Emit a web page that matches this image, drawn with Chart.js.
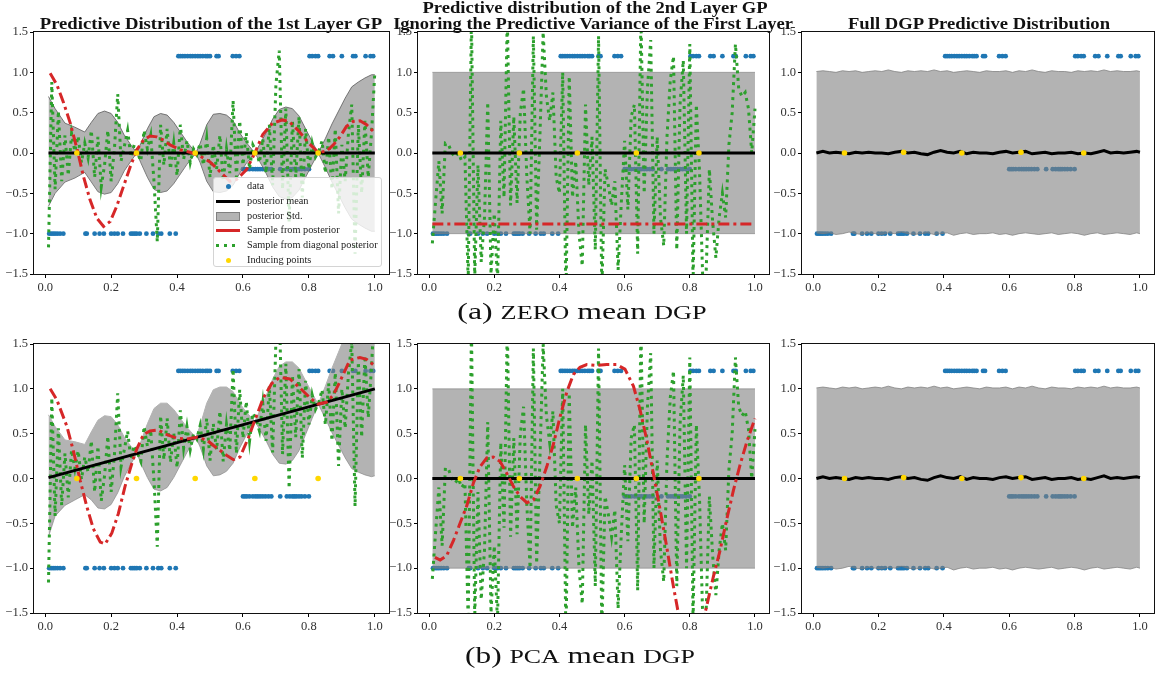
<!DOCTYPE html>
<html>
<head>
<meta charset="utf-8">
<script src="https://cdn.jsdelivr.net/npm/chart.js"></script>
<style>
  body { margin: 0; width: 1156px; height: 677px; overflow: hidden; background: #fff; position: relative; font-family: 'Liberation Serif', 'DejaVu Serif', serif; }
  canvas { position: absolute; }
  .title { position: absolute; font-weight: bold; font-size: 16px; line-height: 16px; white-space: nowrap; transform: translateX(-50%); transform-origin: 0 0; color: #111; }
  .caption { position: absolute; font-size: 23px; line-height: 22px; white-space: nowrap; transform: translateX(-50%); transform-origin: 0 0; color: #111; }
  .sc { font-size: 19px; }
  #legend { position: absolute; left: 213px; top: 177px; width: 169px; height: 90px; background: rgba(255,255,255,0.8); border: 1px solid #d4d4d4; border-radius: 3px; font-size: 10.3px; z-index: 5; color: #222; padding-top: 1px; box-sizing: border-box; }
  .row { position: relative; height: 14.8px; line-height: 14.8px; padding-left: 33px; white-space: nowrap; }
  .sym { position: absolute; left: 2px; top: 0; width: 24px; height: 14.8px; }
  .dot { position: absolute; left: 10px; top: 5px; width: 5px; height: 5px; border-radius: 50%; }
  .ln { position: absolute; left: 0; top: 6px; width: 24px; height: 3px; }
  .rect { position: absolute; left: 0; top: 3px; width: 22px; height: 7px; background: #b3b3b3; border: 1px solid #808080; }
</style>
</head>
<body>
<canvas id="c1"></canvas>
<canvas id="c2"></canvas>
<canvas id="c3"></canvas>
<canvas id="c4"></canvas>
<canvas id="c5"></canvas>
<canvas id="c6"></canvas>

<div class="title fit" data-w="343" style="left:211px; top:16px;">Predictive Distribution of the 1st Layer GP</div>
<div class="title fit" data-w="345" style="left:595px; top:0px;">Predictive distribution of the 2nd Layer GP</div>
<div class="title fit" data-w="400" style="left:593px; top:16px;">Ignoring the Predictive Variance of the First Layer</div>
<div class="title fit" data-w="262" style="left:979px; top:16px;">Full DGP Predictive Distribution</div>

<div class="caption fit" data-w="249" style="left:582px; top:301px;">(a) <span class="sc">ZERO</span> mean <span class="sc">DGP</span></div>
<div class="caption fit" data-w="230" style="left:580px; top:645px;">(b) <span class="sc">PCA</span> mean <span class="sc">DGP</span></div>

<div id="legend">
  <div class="row"><span class="sym"><i class="dot" style="background:#1f77b4"></i></span>data</div>
  <div class="row"><span class="sym"><i class="ln" style="background:#000"></i></span>posterior mean</div>
  <div class="row"><span class="sym"><i class="rect"></i></span>posterior Std.</div>
  <div class="row"><span class="sym"><i class="ln" style="background:#d62728"></i></span>Sample from posterior</div>
  <div class="row"><span class="sym"><i class="ln" style="background:repeating-linear-gradient(to right,#2ca02c 0 3px,transparent 3px 8px)"></i></span>Sample from diagonal posterior</div>
  <div class="row"><span class="sym"><i class="dot" style="background:#ffd700"></i></span>Inducing points</div>
</div>

<script>
// ---- data ----
const xTicks = [0.0, 0.2, 0.4, 0.6, 0.8, 1.0];
const yTicks = [-1.5, -1.0, -0.5, 0.0, 0.5, 1.0, 1.5];

// training data (three levels)
const dataLowY = -1.0, dataMidY = -0.2, dataHighY = 1.2;
const dataLowX = [0.012,0.018,0.024,0.03,0.037,0.045,0.055,0.122,0.126,0.15,0.165,0.178,0.2,0.21,0.22,0.236,0.26,0.266,0.272,0.278,0.287,0.307,0.327,0.343,0.352,0.378,0.396];
const dataMidX = [0.6,0.606,0.612,0.62,0.63,0.638,0.645,0.652,0.66,0.668,0.677,0.686,0.713,0.733,0.742,0.75,0.756,0.762,0.77,0.778,0.788,0.8];
const dataHighX = [0.404,0.41,0.417,0.424,0.432,0.44,0.447,0.455,0.463,0.47,0.478,0.487,0.493,0.5,0.52,0.526,0.569,0.579,0.589,0.802,0.81,0.82,0.828,0.863,0.873,0.9,0.934,0.941,0.972,0.987,0.995];

const inducingX = [0.096, 0.277, 0.455, 0.636, 0.828];
const inducingY = [0, 0, 0, 0, 0];
const inducingDgpY = [0.0, 0.01, 0.0, 0.01, 0.0];

// posterior means
const meanX = [0.01, 1.0];
const meanZeroY = [0.0, 0.0];
const meanPcaY = [0.01, 1.0];

// 1st layer posterior std band
const band1X = [0.01,0.03,0.06,0.09,0.12,0.14,0.16,0.18,0.20,0.22,0.24,0.26,0.278,0.29,0.31,0.33,0.35,0.37,0.39,0.41,0.43,0.457,0.47,0.49,0.51,0.53,0.55,0.57,0.59,0.61,0.636,0.65,0.67,0.69,0.71,0.73,0.75,0.77,0.79,0.81,0.828,0.85,0.87,0.89,0.91,0.93,0.95,0.97,0.99,1.0];
const band1Upper = [0.70,0.55,0.37,0.32,0.26,0.38,0.49,0.52,0.49,0.38,0.22,0.10,0.00,0.12,0.30,0.45,0.49,0.47,0.38,0.26,0.14,0.00,0.12,0.35,0.48,0.49,0.47,0.40,0.25,0.13,0.00,0.10,0.25,0.42,0.54,0.57,0.55,0.46,0.30,0.14,0.00,0.18,0.36,0.52,0.68,0.82,0.88,0.93,0.97,0.97];
const band1Lower = [-0.66,-0.50,-0.36,-0.31,-0.24,-0.36,-0.48,-0.51,-0.49,-0.38,-0.22,-0.10,0.00,-0.12,-0.30,-0.45,-0.49,-0.47,-0.38,-0.26,-0.14,0.00,-0.12,-0.35,-0.48,-0.49,-0.47,-0.40,-0.25,-0.13,0.00,-0.10,-0.25,-0.42,-0.54,-0.57,-0.55,-0.46,-0.30,-0.14,0.00,-0.18,-0.36,-0.52,-0.68,-0.82,-0.88,-0.93,-0.97,-0.97];
const band4Upper = [0.71,0.58,0.43,0.41,0.38,0.52,0.65,0.70,0.69,0.60,0.46,0.36,0.28,0.41,0.61,0.78,0.84,0.84,0.77,0.67,0.57,0.46,0.59,0.84,0.99,1.02,1.02,0.97,0.84,0.74,0.64,0.75,0.92,1.11,1.25,1.30,1.30,1.23,1.09,0.95,0.83,1.03,1.23,1.41,1.59,1.75,1.83,1.90,1.96,1.97];
const band4Lower = [-0.65,-0.42,-0.30,-0.24,-0.18,-0.24,-0.33,-0.34,-0.29,-0.16,0.02,0.16,0.28,0.17,0.01,-0.12,-0.14,-0.10,0.01,0.15,0.29,0.46,0.35,0.14,0.03,0.04,0.08,0.17,0.34,0.48,0.64,0.55,0.42,0.27,0.17,0.16,0.20,0.31,0.49,0.67,0.83,0.67,0.51,0.37,0.23,0.11,0.07,0.04,0.02,0.03];

// 2nd layer band (ignoring 1st layer variance)
const band2X = [0.01, 1.0];
const band2Upper = [1.0, 1.0];
const band2Lower = [-1.0, -1.0];

// samples from the posterior
const red1X = [0.015,0.035,0.056,0.076,0.096,0.116,0.136,0.157,0.177,0.197,0.217,0.237,0.258,0.278,0.298,0.318,0.338,0.359,0.379,0.409,0.439,0.47,0.5,0.52,0.54,0.56,0.58,0.61,0.636,0.66,0.69,0.72,0.74,0.77,0.80,0.828,0.853,0.874,0.894,0.914,0.934,0.955,0.975,0.995];
const red1Y = [0.99,0.85,0.62,0.37,0.06,-0.29,-0.58,-0.81,-0.91,-0.85,-0.66,-0.42,-0.17,0.04,0.16,0.21,0.20,0.16,0.10,0.04,0.01,-0.04,-0.11,-0.19,-0.27,-0.35,-0.33,-0.21,0.00,0.23,0.37,0.41,0.39,0.27,0.12,0.01,0.02,0.10,0.20,0.33,0.39,0.40,0.35,0.27];
const red2X = [0.01, 1.0];
const red2Y = [-0.88, -0.88];
const red4X = [0.015,0.035,0.066,0.086,0.106,0.126,0.146,0.167,0.182,0.202,0.222,0.242,0.263,0.278,0.298,0.318,0.343,0.369,0.399,0.429,0.46,0.49,0.52,0.55,0.571,0.591,0.616,0.636,0.662,0.687,0.712,0.742,0.773,0.803,0.828,0.853,0.874,0.894,0.924,0.955,0.975,0.995];
const red4Y = [1.0,0.88,0.58,0.30,-0.02,-0.31,-0.56,-0.71,-0.73,-0.61,-0.39,-0.09,0.17,0.33,0.49,0.53,0.54,0.49,0.45,0.44,0.46,0.43,0.34,0.26,0.21,0.24,0.45,0.65,0.90,1.06,1.13,1.11,1.01,0.90,0.83,0.85,0.93,1.08,1.32,1.35,1.33,1.27];
const red5X = [0.018,0.034,0.054,0.075,0.095,0.116,0.136,0.156,0.177,0.197,0.218,0.238,0.259,0.279,0.3,0.32,0.34,0.361,0.382,0.402,0.423,0.443,0.463,0.484,0.514,0.545,0.576,0.601,0.627,0.647,0.668,0.688,0.709,0.729,0.75,0.775,0.8,0.825,0.85,0.872,0.893,0.913,0.934,0.954,0.975,1.0];
const red5Y = [-0.88,-0.91,-0.86,-0.69,-0.50,-0.30,-0.05,0.13,0.23,0.24,0.19,0.06,-0.09,-0.20,-0.27,-0.24,-0.09,0.13,0.39,0.69,0.97,1.16,1.24,1.27,1.26,1.27,1.27,1.22,1.03,0.77,0.43,0.06,-0.35,-0.76,-1.21,-1.70,-1.95,-1.85,-1.45,-1.10,-0.80,-0.46,-0.13,0.15,0.41,0.67];

// samples from the diagonal posterior
const greenX = [0.01,0.02,0.03,0.04,0.05,0.06,0.07,0.08,0.09,0.10,0.11,0.12,0.13,0.14,0.15,0.16,0.17,0.18,0.19,0.20,0.21,0.22,0.23,0.24,0.25,0.26,0.27,0.28,0.29,0.30,0.31,0.32,0.33,0.34,0.35,0.36,0.37,0.38,0.39,0.40,0.41,0.42,0.43,0.44,0.45,0.46,0.47,0.48,0.49,0.50,0.51,0.52,0.53,0.54,0.55,0.56,0.57,0.58,0.59,0.60,0.61,0.62,0.63,0.64,0.65,0.66,0.67,0.68,0.69,0.70,0.71,0.72,0.73,0.74,0.75,0.76,0.77,0.78,0.79,0.80,0.81,0.82,0.83,0.84,0.85,0.86,0.87,0.88,0.89,0.90,0.91,0.92,0.93,0.94,0.95,0.96,0.97,0.98,0.99,1.00];
const green1Y = [-1.17,0.88,-0.45,0.52,-0.35,0.22,-0.28,0.24,0.02,0.21,-0.12,0.12,-0.06,0.28,-0.30,0.20,-0.42,-0.15,0.28,-0.35,0.05,0.73,-0.10,0.08,0.28,-0.05,0.10,0.00,-0.10,0.28,0.05,0.22,-0.35,-1.10,0.35,-0.15,0.30,-0.20,0.12,-0.28,0.35,-0.08,0.15,-0.12,0.05,-0.02,0.12,-0.15,0.18,-0.30,0.10,-0.20,0.22,-0.35,0.05,-0.25,0.65,-0.30,0.40,-0.15,0.25,-0.20,0.10,0.02,-0.12,0.18,-0.25,0.35,-0.40,0.85,1.27,-0.45,0.55,-0.85,0.40,-0.30,0.45,-0.55,0.30,-0.20,0.12,-0.05,0.02,0.15,-0.25,0.20,-0.45,0.30,-0.75,0.10,-0.35,0.25,0.60,-1.25,0.35,-0.50,0.40,-0.30,0.25,1.00];
const green4Y = [-1.16,0.90,-0.42,0.56,-0.30,0.28,-0.21,0.32,0.11,0.31,-0.01,0.24,0.07,0.42,-0.15,0.36,-0.25,0.03,0.47,-0.15,0.26,0.95,0.13,0.32,0.53,0.21,0.37,0.28,0.19,0.58,0.36,0.54,-0.02,-0.76,0.70,0.21,0.67,0.18,0.51,0.12,0.76,0.34,0.58,0.32,0.50,0.44,0.59,0.33,0.67,0.20,0.61,0.32,0.75,0.19,0.60,0.31,1.22,0.28,0.99,0.45,0.86,0.42,0.73,0.66,0.53,0.84,0.42,1.03,0.29,1.55,1.98,0.27,1.28,-0.11,1.15,0.46,1.22,0.23,1.09,0.60,0.93,0.77,0.85,0.99,0.60,1.06,0.42,1.18,0.14,1.00,0.56,1.17,1.53,-0.31,1.30,0.46,1.37,0.68,1.24,2.00];
const green2Y = [-1.12,-0.60,-0.10,-0.75,0.12,0.10,0.00,-0.05,0.00,-0.10,-0.05,-1.60,1.70,-1.55,-0.15,-1.35,-0.80,0.63,-1.50,-0.75,-1.60,0.40,-0.55,1.70,-0.65,0.45,-0.62,0.50,0.80,-0.30,-1.00,1.45,-0.95,0.20,1.50,0.70,0.40,0.75,-0.30,-0.50,1.00,-1.80,0.95,-0.55,-0.10,-1.00,-1.40,0.60,-0.40,0.20,-1.20,1.45,-1.70,-0.20,-0.40,-0.65,-0.35,-1.45,-0.60,0.15,-0.70,0.45,0.60,-1.25,1.70,-0.50,0.80,1.40,-1.00,0.20,-0.80,-1.15,0.20,0.90,1.20,-1.20,0.60,1.15,-1.00,1.35,-1.60,0.60,-0.25,-1.60,-1.50,-0.20,-0.85,-1.30,-0.80,-0.50,-0.80,0.10,0.50,1.35,0.80,0.70,0.75,0.55,0.00,0.55];

// full DGP predictive distribution
const dgpX = [0.01,0.03,0.05,0.07,0.09,0.11,0.13,0.15,0.17,0.19,0.21,0.23,0.25,0.27,0.29,0.31,0.33,0.35,0.37,0.39,0.41,0.43,0.45,0.47,0.49,0.51,0.53,0.55,0.57,0.59,0.61,0.63,0.65,0.67,0.69,0.71,0.73,0.75,0.77,0.79,0.81,0.83,0.85,0.87,0.89,0.91,0.93,0.95,0.97,0.99,1.0];
const dgpMean = [0.00,0.02,0.00,0.01,0.00,-0.01,0.01,0.00,0.01,0.00,0.00,-0.01,0.01,0.02,0.00,0.01,-0.01,-0.02,0.01,0.03,0.01,0.00,0.02,-0.01,0.01,0.00,0.00,-0.01,0.01,0.02,0.00,0.01,0.02,-0.01,0.00,0.01,-0.01,0.00,0.00,0.01,-0.01,0.00,-0.01,0.01,0.03,0.00,0.01,0.00,0.01,0.02,0.01];
const dgpUpper = [1.01,1.02,1.01,1.00,1.02,1.01,1.02,1.00,1.01,1.02,1.01,1.03,1.01,1.00,1.02,1.01,1.02,1.01,1.03,1.01,1.02,1.00,1.01,1.02,1.01,1.00,1.02,1.01,1.01,1.02,1.00,1.02,1.01,1.03,1.01,1.00,1.02,1.01,1.01,1.00,1.02,1.01,1.02,1.01,1.03,1.01,1.02,1.01,1.01,1.02,1.01];
const dgpLower = [-0.99,-1.00,-0.99,-1.01,-1.00,-0.98,-1.00,-1.01,-0.99,-1.00,-1.01,-0.99,-1.00,-0.98,-1.00,-1.01,-1.00,-0.99,-1.01,-1.00,-0.99,-1.02,-1.00,-0.99,-1.01,-1.00,-1.00,-0.99,-1.01,-1.00,-1.02,-1.00,-0.99,-1.00,-1.01,-1.00,-0.99,-1.01,-1.00,-0.99,-1.00,-1.02,-1.00,-0.99,-1.01,-1.00,-0.99,-1.00,-1.01,-0.99,-1.00];

// ---- layout ----
const Y_W = 34, X_H = 22, PAD_T = 10, PAD_R = 6;
const X_MIN = -0.034, X_MAX = 1.043;
const boxes = {
  c1: { L: 34, R: 389, T: 32, B: 274 },
  c2: { L: 418, R: 769, T: 32, B: 274 },
  c3: { L: 802, R: 1154, T: 32, B: 274 },
  c4: { L: 34, R: 389, T: 344, B: 613 },
  c5: { L: 418, R: 769, T: 344, B: 613 },
  c6: { L: 802, R: 1154, T: 344, B: 613 }
};

const BLUE = '#1f77b4', RED = '#d62728', GREEN = '#2ca02c', GOLD = '#ffd700';
const BAND_FILL = 'rgba(128,128,128,0.6)';

function pts(xs, ys) { return xs.map((x, i) => ({ x: x, y: ys[i] })); }

function dataPoints() {
  return [].concat(
    dataLowX.map(x => ({ x: x, y: dataLowY })),
    dataMidX.map(x => ({ x: x, y: dataMidY })),
    dataHighX.map(x => ({ x: x, y: dataHighY }))
  );
}

function line(xs, ys, color, width, dash, order) {
  return { data: pts(xs, ys), borderColor: color, borderWidth: width, borderDash: dash,
           pointRadius: 0, fill: false, tension: 0, order: order, clip: 0 };
}
function dots(points, color, r, order) {
  return { data: points, showLine: false, pointRadius: r, pointBackgroundColor: color,
           pointBorderWidth: 0, order: order, clip: 0 };
}
function band(xs, up, lo, edge) {
  return [
    { data: pts(xs, up), borderColor: edge, borderWidth: 1, backgroundColor: BAND_FILL,
      fill: '+1', pointRadius: 0, tension: 0, order: 5, clip: 0 },
    { data: pts(xs, lo), borderColor: edge, borderWidth: 1, fill: false,
      pointRadius: 0, tension: 0, order: 5, clip: 0 }
  ];
}

const fmt = v => (Math.abs(v) < 1e-9 ? 0 : v).toFixed(1).replace('-', '\u2212');
const tickFont = { family: "'Liberation Serif', serif", size: 12.5 };

function axis(ticks, fit) {
  return {
    type: 'linear',
    afterBuildTicks: s => { s.ticks = ticks.map(v => ({ value: v })); },
    afterFit: fit,
    ticks: { font: tickFont, color: '#333', padding: 2, autoSkip: false, maxRotation: 0, callback: fmt },
    grid: { display: true, drawOnChartArea: false, drawTicks: true, tickLength: 4, color: '#000' },
    border: { display: false }
  };
}

// black frame round the plot area
const frame = {
  id: 'frame',
  afterDraw(chart) {
    const a = chart.chartArea, ctx = chart.ctx;
    ctx.save();
    ctx.strokeStyle = '#111';
    ctx.lineWidth = 1;
    ctx.strokeRect(Math.round(a.left) - 0.5, Math.round(a.top) - 0.5,
                   Math.round(a.right - a.left) + 1, Math.round(a.bottom - a.top) + 1);
    ctx.restore();
  }
};

function panel(id, datasets) {
  const b = boxes[id];
  const c = document.getElementById(id);
  c.width = b.R - b.L + Y_W + PAD_R;
  c.height = b.B - b.T + PAD_T + X_H;
  c.style.left = (b.L - Y_W) + 'px';
  c.style.top = (b.T - PAD_T) + 'px';
  const xAxis = axis(xTicks, s => { s.height = X_H; });
  xAxis.min = X_MIN; xAxis.max = X_MAX;
  const yAxis = axis(yTicks, s => { s.width = Y_W; });
  yAxis.min = -1.5; yAxis.max = 1.5;
  return new Chart(c, {
    type: 'line',
    data: { datasets: datasets },
    options: {
      responsive: false, animation: false, events: [], devicePixelRatio: 1,
      layout: { padding: { top: PAD_T, right: PAD_R, left: 0, bottom: 0 } },
      plugins: { legend: { display: false }, tooltip: { enabled: false } },
      scales: { x: xAxis, y: yAxis }
    },
    plugins: [frame]
  });
}

const DASHDOT = [11, 4, 3, 4];
const DOTTED = [3, 4.5];

// (a) zero mean DGP
panel('c1', [dots(dataPoints(), BLUE, 2.4, 7)].concat(
  band(band1X, band1Upper, band1Lower, 'rgba(90,90,90,0.8)'),
  [line(meanX, meanZeroY, '#000', 3, [], 3),
   line(greenX, green1Y, GREEN, 3, DOTTED, 4),
   line(red1X, red1Y, RED, 3, DASHDOT, 2),
   dots(pts(inducingX, inducingY), GOLD, 2.8, 1)]));

panel('c2', [dots(dataPoints(), BLUE, 2.4, 7)].concat(
  band(band2X, band2Upper, band2Lower, BAND_FILL),
  [line(meanX, meanZeroY, '#000', 3, [], 3),
   line(greenX, green2Y, GREEN, 3, DOTTED, 4),
   line(red2X, red2Y, RED, 3, DASHDOT, 2),
   dots(pts(inducingX, inducingY), GOLD, 2.8, 1)]));

panel('c3', [dots(dataPoints(), BLUE, 2.4, 7)].concat(
  band(dgpX, dgpUpper, dgpLower, 'rgba(120,120,120,0.7)'),
  [line(dgpX, dgpMean, '#000', 3, [], 3),
   dots(pts(inducingX, inducingDgpY), GOLD, 2.8, 1)]));

// (b) PCA mean DGP
panel('c4', [dots(dataPoints(), BLUE, 2.4, 7)].concat(
  band(band1X, band4Upper, band4Lower, 'rgba(178,178,178,1)'),
  [line(meanX, meanPcaY, '#000', 3, [], 3),
   line(greenX, green4Y, GREEN, 3, DOTTED, 4),
   line(red4X, red4Y, RED, 3, DASHDOT, 2),
   dots(pts(inducingX, inducingY), GOLD, 2.8, 1)]));

panel('c5', [dots(dataPoints(), BLUE, 2.4, 7)].concat(
  band(band2X, band2Upper, band2Lower, BAND_FILL),
  [line(meanX, meanZeroY, '#000', 3, [], 3),
   line(greenX, green2Y, GREEN, 3, DOTTED, 4),
   line(red5X, red5Y, RED, 3, DASHDOT, 2),
   dots(pts(inducingX, inducingY), GOLD, 2.8, 1)]));

panel('c6', [dots(dataPoints(), BLUE, 2.4, 7)].concat(
  band(dgpX, dgpUpper, dgpLower, 'rgba(120,120,120,0.7)'),
  [line(dgpX, dgpMean, '#000', 3, [], 3),
   dots(pts(inducingX, inducingDgpY), GOLD, 2.8, 1)]));

// stretch the serif titles to the width they take in the figure
function fitTexts() {
  document.querySelectorAll('.fit').forEach(el => {
    const k = Number(el.dataset.w) / el.offsetWidth;
    el.style.transform = 'scaleX(' + k + ') translateX(-50%)';
  });
}
fitTexts();
if (document.fonts) document.fonts.ready.then(fitTexts);
</script>
</body>
</html>
